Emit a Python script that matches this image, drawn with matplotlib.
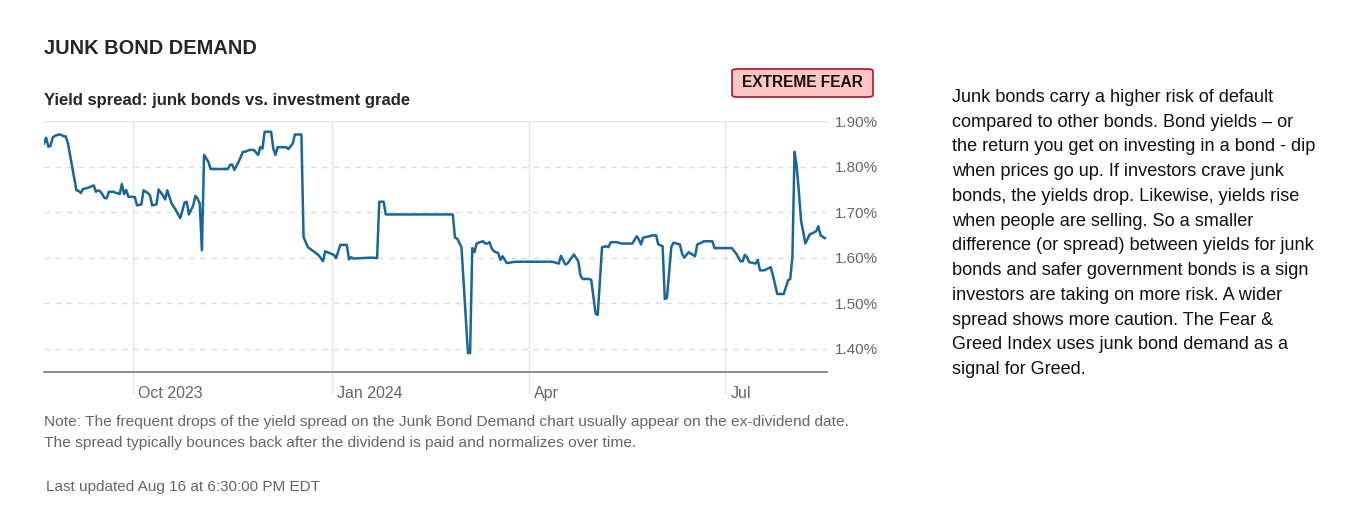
import pandas as pd
import matplotlib.pyplot as plt
import matplotlib.transforms as mtransforms
from matplotlib.patches import FancyBboxPatch

plt.rcParams['font.family'] = ['Liberation Sans', 'DejaVu Sans']

# yield spread readings (junk bonds vs. investment grade), in percent
dates = ['2023-08-21', '2023-08-22', '2023-08-23', '2023-08-24', '2023-08-25', '2023-08-26',
         '2023-08-28', '2023-08-29', '2023-08-30', '2023-08-31', '2023-09-01', '2023-09-03',
         '2023-09-05', '2023-09-06', '2023-09-07', '2023-09-08', '2023-09-10', '2023-09-12',
         '2023-09-13', '2023-09-14', '2023-09-15', '2023-09-16', '2023-09-17', '2023-09-18',
         '2023-09-19', '2023-09-20', '2023-09-22', '2023-09-23', '2023-09-25', '2023-09-26',
         '2023-09-27', '2023-09-28', '2023-09-29', '2023-09-30', '2023-10-02', '2023-10-03',
         '2023-10-05', '2023-10-06', '2023-10-08', '2023-10-09', '2023-10-10', '2023-10-12',
         '2023-10-13', '2023-10-15', '2023-10-16', '2023-10-17', '2023-10-19', '2023-10-21',
         '2023-10-23', '2023-10-24', '2023-10-25', '2023-10-26', '2023-10-27', '2023-10-29',
         '2023-10-30', '2023-10-31', '2023-11-01', '2023-11-02', '2023-11-03', '2023-11-05',
         '2023-11-06', '2023-11-14', '2023-11-15', '2023-11-16', '2023-11-17', '2023-11-19',
         '2023-11-21', '2023-11-22', '2023-11-24', '2023-11-26', '2023-11-28', '2023-11-29',
         '2023-11-30', '2023-12-01', '2023-12-04', '2023-12-05', '2023-12-06', '2023-12-07',
         '2023-12-11', '2023-12-12', '2023-12-14', '2023-12-15', '2023-12-18', '2023-12-19',
         '2023-12-21', '2023-12-23', '2023-12-26', '2023-12-28', '2023-12-29', '2023-12-31',
         '2024-01-02', '2024-01-03', '2024-01-05', '2024-01-08', '2024-01-09', '2024-01-10',
         '2024-01-11', '2024-01-19', '2024-01-22', '2024-01-23', '2024-01-25', '2024-01-26',
         '2024-02-26', '2024-02-27', '2024-02-28', '2024-03-01', '2024-03-04', '2024-03-05',
         '2024-03-06', '2024-03-07', '2024-03-08', '2024-03-09', '2024-03-11', '2024-03-12',
         '2024-03-13', '2024-03-14', '2024-03-15', '2024-03-16', '2024-03-18', '2024-03-19',
         '2024-03-20', '2024-03-22', '2024-03-26', '2024-04-12', '2024-04-15', '2024-04-16',
         '2024-04-18', '2024-04-19', '2024-04-22', '2024-04-24', '2024-04-25', '2024-04-26',
         '2024-04-29', '2024-04-30', '2024-05-02', '2024-05-03', '2024-05-05', '2024-05-07',
         '2024-05-08', '2024-05-09', '2024-05-12', '2024-05-14', '2024-05-19', '2024-05-21',
         '2024-05-22', '2024-05-23', '2024-05-24', '2024-05-27', '2024-05-28', '2024-05-30',
         '2024-05-31', '2024-06-02', '2024-06-03', '2024-06-04', '2024-06-06', '2024-06-07',
         '2024-06-10', '2024-06-11', '2024-06-12', '2024-06-14', '2024-06-17', '2024-06-18',
         '2024-06-20', '2024-06-21', '2024-06-25', '2024-06-26', '2024-07-04', '2024-07-06',
         '2024-07-08', '2024-07-09', '2024-07-10', '2024-07-11', '2024-07-12', '2024-07-15',
         '2024-07-16', '2024-07-17', '2024-07-19', '2024-07-22', '2024-07-23', '2024-07-25',
         '2024-07-28', '2024-07-30', '2024-07-31', '2024-08-01', '2024-08-02', '2024-08-03',
         '2024-08-04', '2024-08-05', '2024-08-07', '2024-08-09', '2024-08-12', '2024-08-13',
         '2024-08-14', '2024-08-16']
spread = [1.851, 1.864, 1.844, 1.846, 1.864, 1.868,
          1.871, 1.870, 1.867, 1.867, 1.853, 1.800,
          1.748, 1.747, 1.742, 1.751, 1.753, 1.757,
          1.759, 1.745, 1.748, 1.746, 1.739, 1.731,
          1.731, 1.745, 1.745, 1.743, 1.740, 1.762,
          1.740, 1.749, 1.734, 1.734, 1.733, 1.715,
          1.717, 1.748, 1.742, 1.737, 1.715, 1.717,
          1.750, 1.737, 1.728, 1.748, 1.719, 1.704,
          1.687, 1.704, 1.721, 1.723, 1.695, 1.715,
          1.736, 1.730, 1.719, 1.616, 1.826, 1.811,
          1.795, 1.795, 1.804, 1.805, 1.793, 1.811,
          1.833, 1.833, 1.837, 1.837, 1.826, 1.843,
          1.840, 1.877, 1.877, 1.840, 1.826, 1.843,
          1.843, 1.839, 1.851, 1.871, 1.871, 1.645,
          1.623, 1.616, 1.605, 1.592, 1.614, 1.610,
          1.606, 1.599, 1.628, 1.628, 1.596, 1.601,
          1.598, 1.600, 1.599, 1.723, 1.723, 1.695,
          1.695, 1.644, 1.642, 1.623, 1.390, 1.390,
          1.621, 1.612, 1.631, 1.633, 1.636, 1.631,
          1.631, 1.634, 1.620, 1.614, 1.610, 1.595,
          1.603, 1.588, 1.591, 1.591, 1.587, 1.604,
          1.585, 1.587, 1.607, 1.592, 1.561, 1.553,
          1.553, 1.551, 1.477, 1.474, 1.623, 1.625,
          1.623, 1.634, 1.634, 1.631, 1.631, 1.647,
          1.640, 1.629, 1.644, 1.647, 1.649, 1.649,
          1.629, 1.625, 1.509, 1.511, 1.623, 1.633,
          1.629, 1.609, 1.600, 1.612, 1.603, 1.629,
          1.633, 1.636, 1.636, 1.621, 1.621, 1.609,
          1.592, 1.592, 1.606, 1.601, 1.590, 1.587,
          1.595, 1.572, 1.572, 1.579, 1.561, 1.520,
          1.520, 1.550, 1.553, 1.601, 1.833, 1.800,
          1.745, 1.682, 1.631, 1.651, 1.658, 1.669,
          1.649, 1.643]

y_ticks = [1.40, 1.50, 1.60, 1.70, 1.80, 1.90]
x_ticks = ['2023-10-01', '2024-01-01', '2024-04-01', '2024-07-01']
x_tick_labels = ['Oct 2023', 'Jan 2024', 'Apr', 'Jul']

body_text = ("Junk bonds carry a higher risk of default\n"
             "compared to other bonds. Bond yields \u2013 or\n"
             "the return you get on investing in a bond - dip\n"
             "when prices go up. If investors crave junk\n"
             "bonds, the yields drop. Likewise, yields rise\n"
             "when people are selling. So a smaller\n"
             "difference (or spread) between yields for junk\n"
             "bonds and safer government bonds is a sign\n"
             "investors are taking on more risk. A wider\n"
             "spread shows more caution. The Fear &\n"
             "Greed Index uses junk bond demand as a\n"
             "signal for Greed.")

W, H = 1366, 513
fig = plt.figure(figsize=(W / 100, H / 100), dpi=100)
fig.patch.set_facecolor('white')

def fx(px):
    return px / W

def fy(py):
    return 1 - py / H

ax = fig.add_axes([fx(44), fy(371.7), fx(827) - fx(44), fy(121.3) - fy(371.7)])

x = pd.to_datetime(dates)
ax.plot(x, spread, color='#1a6699', lw=1.8, solid_joinstyle='round', zorder=3)

ax.set_xlim(pd.Timestamp('2023-08-21'), pd.Timestamp('2024-08-17'))
ax.set_ylim(1.349, 1.90)

# horizontal grid: solid on top, dashed below
for v in y_ticks:
    if v == 1.90:
        ax.axhline(v, color='#e6e6e6', lw=1, zorder=1)
    else:
        ax.axhline(v, color='#dddddd', lw=1, ls=(0, (4, 4)), zorder=1)

# vertical grid running down past the baseline as tick marks
for d in x_ticks:
    ax.axvline(pd.Timestamp(d), ymin=-0.085, ymax=1, color='#e6e6e6', lw=1,
               clip_on=False, zorder=1)

for s in ['top', 'right', 'left']:
    ax.spines[s].set_visible(False)
ax.spines['bottom'].set_color('#777777')
ax.spines['bottom'].set_linewidth(1.2)

ax.set_xticks(pd.to_datetime(x_ticks))
ax.set_xticklabels(x_tick_labels)
ax.tick_params(axis='x', length=0, pad=10, labelsize=11.5, labelcolor='#666666')
offset = mtransforms.ScaledTranslation(5 / 100, 0, fig.dpi_scale_trans)
for lab in ax.get_xticklabels():
    lab.set_horizontalalignment('left')
    lab.set_transform(lab.get_transform() + offset)

ax.yaxis.tick_right()
ax.set_yticks(y_ticks)
ax.set_yticklabels(['%.2f%%' % v for v in y_ticks])
ax.tick_params(axis='y', length=0, pad=6, labelsize=11, labelcolor='#666666')

# header texts
fig.text(fx(44), fy(49), 'JUNK BOND DEMAND', fontsize=14.4, fontweight='bold',
         color='#262626', va='center', ha='left')
fig.text(fx(44), fy(100), 'Yield spread: junk bonds vs. investment grade', fontsize=12,
         fontweight='bold', color='#262626', va='center', ha='left')

# rating badge
badge = FancyBboxPatch((fx(732), fy(97)), fx(873) - fx(732), fy(69) - fy(97),
                       boxstyle='round,pad=0,rounding_size=0.004',
                       transform=fig.transFigure, facecolor='#ffc6c2',
                       edgecolor='#b0122b', lw=1.2)
fig.patches.append(badge)
fig.text(fx(802.5), fy(83), 'EXTREME FEAR', fontsize=11.2, fontweight='bold',
         color='#111111', ha='center', va='center')

# notes under the chart
fig.text(fx(44), fy(422), 'Note: The frequent drops of the yield spread on the Junk Bond Demand '
         'chart usually appear on the ex-dividend date.', fontsize=11.15, color='#666666',
         va='center', ha='left')
fig.text(fx(44), fy(443), 'The spread typically bounces back after the dividend is paid and '
         'normalizes over time.', fontsize=11.15, color='#666666', va='center', ha='left')
fig.text(fx(46), fy(487), 'Last updated Aug 16 at 6:30:00 PM EDT', fontsize=11,
         color='#666666', va='center', ha='left')

# explanation block on the right
fig.text(fx(952), fy(89), body_text, fontsize=13.1, color='#111111', va='top', ha='left',
         linespacing=1.595)

fig.savefig('out.png', dpi=100, facecolor='white')
